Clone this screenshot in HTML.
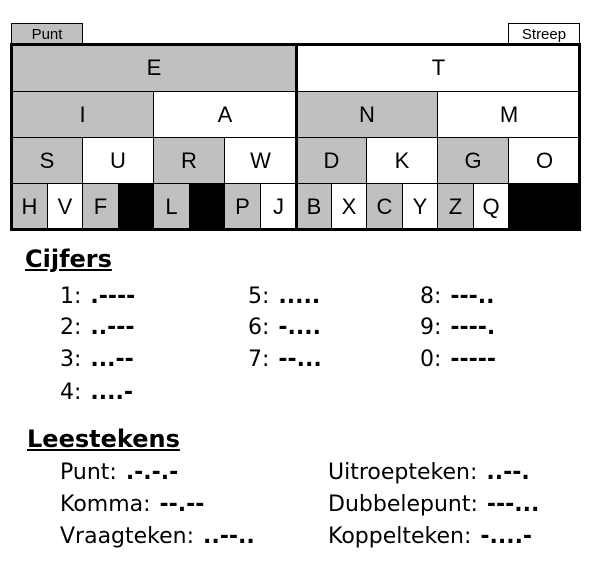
<!DOCTYPE html>
<html><head><meta charset="utf-8"><style>
body{margin:0;width:602px;height:575px;background:#fff;position:relative;overflow:hidden;font-family:"Liberation Sans",Arial,sans-serif;}
.c{position:absolute;box-sizing:border-box;border:1px solid #000;display:flex;align-items:center;justify-content:center;font-size:22px;color:#000;}
.g{background:#c0c0c0}.w{background:#fff}.b{background:#000}
.t{position:absolute;font-family:"DejaVu Sans",Verdana,sans-serif;font-size:22px;color:#000;white-space:nowrap;line-height:1;word-spacing:2px;}
.t b{font-weight:bold}
.h{font-weight:bold;text-decoration:underline;font-size:24px;}
</style></head><body>
<div class="c g" style="left:11px;top:23px;width:72px;height:22px;font-size:15px">Punt</div>
<div class="c w" style="left:508px;top:23px;width:72px;height:22px;font-size:15px">Streep</div>

<div class="c g" style="left:11px;top:44px;width:286px;height:48px">E</div>
<div class="c w" style="left:296px;top:44px;width:285px;height:48px">T</div>

<div class="c g" style="left:11px;top:91px;width:143px;height:47px">I</div>
<div class="c w" style="left:153px;top:91px;width:144px;height:47px">A</div>
<div class="c g" style="left:296px;top:91px;width:142px;height:47px">N</div>
<div class="c w" style="left:437px;top:91px;width:144px;height:47px">M</div>

<div class="c g" style="left:11px;top:137px;width:72px;height:47px">S</div>
<div class="c w" style="left:82px;top:137px;width:72px;height:47px">U</div>
<div class="c g" style="left:153px;top:137px;width:72px;height:47px">R</div>
<div class="c w" style="left:224px;top:137px;width:73px;height:47px">W</div>
<div class="c g" style="left:296px;top:137px;width:71px;height:47px">D</div>
<div class="c w" style="left:366px;top:137px;width:72px;height:47px">K</div>
<div class="c g" style="left:437px;top:137px;width:72px;height:47px">G</div>
<div class="c w" style="left:508px;top:137px;width:73px;height:47px">O</div>

<div class="c g" style="left:11px;top:183px;width:37px;height:47px">H</div>
<div class="c w" style="left:47px;top:183px;width:36px;height:47px">V</div>
<div class="c g" style="left:82px;top:183px;width:37px;height:47px">F</div>
<div class="c b" style="left:118px;top:183px;width:36px;height:47px"></div>
<div class="c g" style="left:153px;top:183px;width:37px;height:47px">L</div>
<div class="c b" style="left:189px;top:183px;width:36px;height:47px"></div>
<div class="c g" style="left:224px;top:183px;width:37px;height:47px">P</div>
<div class="c w" style="left:260px;top:183px;width:37px;height:47px">J</div>
<div class="c g" style="left:296px;top:183px;width:36px;height:47px">B</div>
<div class="c w" style="left:331px;top:183px;width:36px;height:47px">X</div>
<div class="c g" style="left:366px;top:183px;width:37px;height:47px">C</div>
<div class="c w" style="left:402px;top:183px;width:36px;height:47px">Y</div>
<div class="c g" style="left:437px;top:183px;width:37px;height:47px">Z</div>
<div class="c w" style="left:473px;top:183px;width:36px;height:47px">Q</div>
<div class="c b" style="left:508px;top:183px;width:73px;height:47px"></div>

<div style="position:absolute;left:10px;top:43px;width:571px;height:188px;box-sizing:border-box;border:3px solid #000"></div>
<div style="position:absolute;left:295px;top:43px;width:3px;height:188px;background:#000"></div>

<div class="t h" style="left:25px;top:247px">Cijfers</div>
<div class="t" style="left:60px;top:286px">1: <b>.----</b></div>
<div class="t" style="left:60px;top:317px">2: <b>..---</b></div>
<div class="t" style="left:60px;top:349px">3: <b>...--</b></div>
<div class="t" style="left:60px;top:382px">4: <b>....-</b></div>
<div class="t" style="left:248px;top:286px">5: <b>.....</b></div>
<div class="t" style="left:248px;top:317px">6: <b>-....</b></div>
<div class="t" style="left:248px;top:349px">7: <b>--...</b></div>
<div class="t" style="left:420px;top:286px">8: <b>---..</b></div>
<div class="t" style="left:420px;top:317px">9: <b>----.</b></div>
<div class="t" style="left:420px;top:349px">0: <b>-----</b></div>

<div class="t h" style="left:27px;top:427px">Leestekens</div>
<div class="t" style="left:60px;top:462px">Punt: <b>.-.-.-</b></div>
<div class="t" style="left:60px;top:494px">Komma: <b>--.--</b></div>
<div class="t" style="left:60px;top:526px">Vraagteken: <b>..--..</b></div>
<div class="t" style="left:328px;top:462px">Uitroepteken: <b>..--.</b></div>
<div class="t" style="left:328px;top:494px">Dubbelepunt: <b>---...</b></div>
<div class="t" style="left:328px;top:526px">Koppelteken: <b>-....-</b></div>
</body></html>
